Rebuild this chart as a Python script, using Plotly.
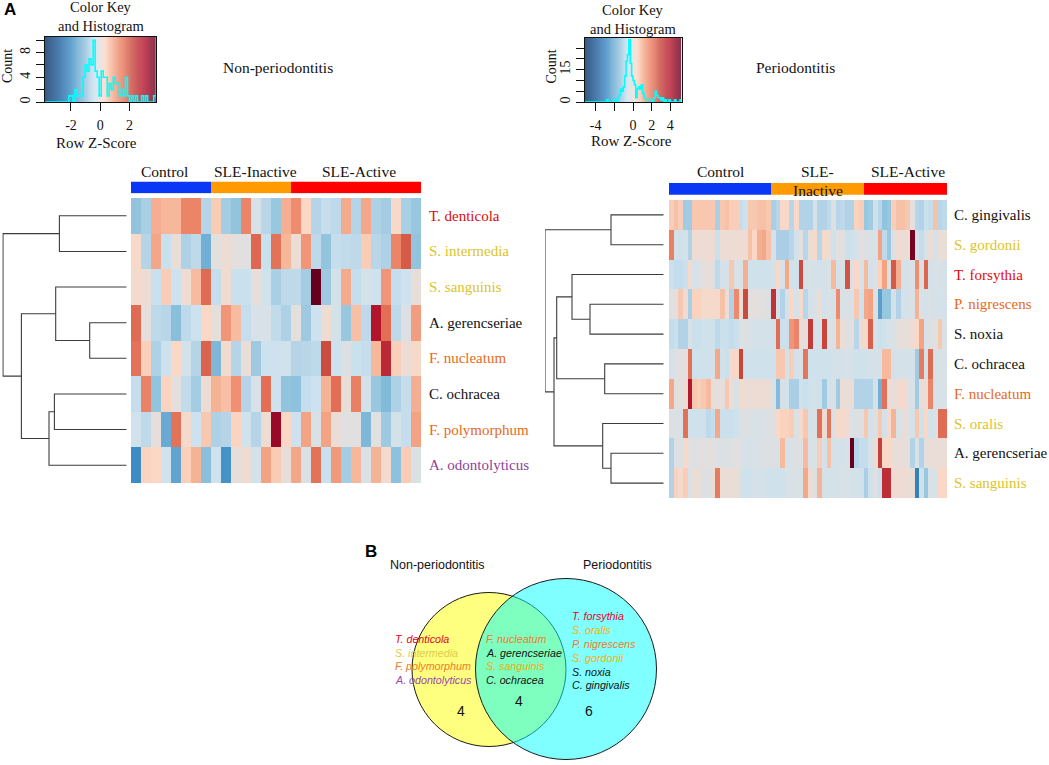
import plotly.graph_objects as go

W, H = 1049, 765
SERIF = "Liberation Serif"
SANS = "Liberation Sans"

# ---------- colours ----------
RED, YEL, ORG, PUR, BLK = "#dd0a0a", "#dcc428", "#e8691c", "#8e3f9c", "#111111"
STOPS = [(-3.8, "#053061"), (-2.8, "#1f5f9f"), (-2, "#3d8cc4"), (-1.5, "#6aaad2"), (-1, "#92c4de"),
         (-.7, "#b5d4e8"), (-.4, "#cde2ee"), (-.1, "#e0e0e0"), (.1, "#ecdcd4"), (.3, "#fbd8c6"),
         (.7, "#f6b79a"), (1.2, "#ef8c6e"), (1.7, "#df6b52"), (2.1, "#cb4b3e"), (2.6, "#bb2a34"),
         (3, "#b2142b"), (3.3, "#980a27"), (3.8, "#67001f")]
CS = [[(v + 3.8) / 7.6, c] for v, c in STOPS]

# ---------- non-periodontitis heat map ----------
rows_non = ["T. denticola", "S. intermedia", "S. sanguinis", "A. gerencseriae",
            "F. nucleatum", "C. ochracea", "F. polymorphum", "A. odontolyticus"]
rowcol_non = [RED, YEL, YEL, BLK, ORG, BLK, ORG, PUR]
groups_non = [("Control", 8), ("SLE-Inactive", 8), ("SLE-Active", 13)]
non_denticola = [-1.0,-.8,.8,.7,.7,1.3,1.3,-.7,.45,-.85,-1.0,1.3,-.25,-.65,-.95,.8,1.2,.3,-.7,-.5,-.6,.85,-.7,.9,-.75,-.85,.25,-.8,-.95]
non_intermedia = [.25,-.7,.9,-.45,.05,-.75,-.6,-1.4,-.05,.1,-.05,-.1,1.75,-.45,1.6,.7,.08,1.1,-.6,-1.0,-.5,-.55,-.6,.45,-.65,-.75,1.3,1.9,-1.0]
non_sanguinis = [.2,.1,-.45,.45,-.4,.15,.65,1.7,-.5,.15,-.45,-.45,0,-.35,-.8,-.6,-.6,-.85,3.8,-.9,-.3,.85,-.5,-.3,-.4,1.1,-.5,-.4,.02]
non_gerenc = [1.7,0,-.6,-.65,-1.1,-.6,-.4,.3,0,1.1,.65,-.5,-.25,-.25,-.55,-.75,-.05,-.9,-.4,.12,-.3,-.95,.6,-.6,3.0,1.65,-.6,-.15,1.0]
non_nucleatum = [1.6,.4,-.75,-.4,.3,-.3,-.7,1.8,-1.25,.15,-.7,.05,-.9,-.4,-.4,-.35,-.7,-.65,-.6,2.1,-.4,-.15,-.45,-.5,.7,2.6,.4,.1,.25]
non_ochracea = [-.5,1.35,-1.0,.35,-.03,-.55,-.85,.1,.75,.6,1.15,-.7,-.25,1.65,-.4,-1.0,-1.05,-.5,-.4,.75,1.65,.05,1.4,-.3,-.95,-1.2,-.75,-.5,.8]
non_polymorphum = [-.35,-.6,-.02,-1.5,1.6,.2,-.4,.5,-.75,-.7,.35,-.35,-.7,.1,3.3,.3,-.4,.95,-.2,.95,.05,-.1,-.1,-1.25,-.1,-.9,-.3,-.5,.95]
non_odonto = [-2.0,.35,.3,-.35,-1.6,.4,.75,-1.1,-.4,-1.9,0,.15,-.3,.95,.45,.05,.9,-.2,1.6,-.45,1.05,-.85,.7,-.2,.75,.2,-1.05,.45,-.2]
z_non = [non_denticola, non_intermedia, non_sanguinis, non_gerenc, non_nucleatum, non_ochracea, non_polymorphum, non_odonto]

# ---------- periodontitis heat map ----------
rows_per = ["C. gingivalis", "S. gordonii", "T. forsythia", "P. nigrescens", "S. noxia",
            "C. ochracea", "F. nucleatum", "S. oralis", "A. gerencseriae", "S. sanguinis"]
rowcol_per = [BLK, YEL, RED, ORG, BLK, BLK, ORG, YEL, BLK, YEL]
groups_per = [("Control", 22), ("SLE-Inactive", 20), ("SLE-Active", 18)]
per_gingivalis = [.6,.8,.6,-1.2,-1.2,.7,.7,.7,.7,.7,-1.1,.7,.8,.6,.6,-.7,-.5,.7,.7,.8,.8,.7,-1.1,-.9,.4,.4,-.9,.4,-1.0,-1.0,-1.0,-.3,-1.0,-1.0,-.8,-.2,-.9,-.8,-1,-1,.5,.6,-1.3,-1.2,-.5,-.9,-1.4,-1.3,.6,.8,.8,.7,-.1,-.9,-1.0,-.6,-.7,.8,-.9,-.8]
per_gordonii = [1.9,-.4,-.5,-.4,-1,.15,.2,.1,.2,.2,-.6,.15,.15,.1,.2,.15,.2,.8,.4,1.1,1.2,.8,-.4,-1.1,-1.1,-1.1,-.9,-.4,-.1,-.9,.1,.4,-.9,.3,.1,-.5,-.1,-.1,-.6,-.5,-.4,-.1,-.2,-.3,-.3,1.3,-.8,-1.3,-.2,.2,.1,.1,5.0,-.4,-.7,-.3,.1,-.4,.1,.1]
per_forsythia = [-.6,-.7,-.7,-.6,.3,-.4,-.2,-.1,.1,-.2,-.8,-.4,-.4,.7,-.3,-.3,1.1,-.5,-.5,-.5,-.5,-.5,-.4,.4,-.3,1.2,-.5,-.5,2.9,-.4,-.3,-.4,-.4,-.4,-.3,.9,-.4,-.3,2.7,-.2,.4,-.3,.9,-.4,-.3,.5,1.3,-.2,2.6,1.1,-.4,-.4,-.3,1.6,-.3,2.4,-.4,-.3,-.3,-.4]
per_nigrescens = [-.1,-.1,.7,.2,-1.1,.5,.5,.3,.3,.3,.3,.8,.1,-1,1.7,.1,2.9,-.1,-.1,-.1,-.1,-.2,3.4,-.4,-1,-.3,.4,-.3,.3,-.9,-.4,-.3,.1,-.4,-.3,-.4,1.7,-.3,-.3,-.3,.7,-.5,1.2,1.3,-.2,-2.3,-1.3,-1.3,-.4,-1,-.4,-.4,-.3,1,-.3,-.4,-.3,-.4,-.4,-.4]
per_noxia = [-.7,-.6,-1,-1,-.3,-.6,-.6,-.5,-.5,-.5,-.8,-.6,-.6,-.7,-.6,-.2,-.2,-.3,-.4,-.4,-.4,-.4,-.5,2.3,-.6,-.6,1.5,1.8,.1,-.1,3.2,-.4,-.4,3,-.3,-.2,1,.1,-.2,-.1,-.9,.2,.3,2.5,-.3,-.6,-.5,-.3,-.3,-.1,.1,-.1,.2,.4,1.3,-.3,-.2,-.1,.7,-.3]
per_ochracea = [-.4,-.2,-.1,-.1,2.2,-.5,-.5,-.5,-.5,-.4,1.2,-.5,-.6,.3,.4,3.0,-.5,-.5,-.5,-.5,-.5,-.5,-.5,.7,.7,-.4,.6,-.4,-.3,2.1,-.5,-.5,-.5,-.5,-.5,-.4,-.4,-.4,-.3,-.4,-.5,-.5,-.5,-.4,-.4,-.4,.9,.9,-.4,-.4,-.4,-.4,-.4,-1.2,2,-.4,2.3,-.3,-.3,-.3]
per_nucleatum = [1.2,-.1,-.1,.2,4.0,.7,.6,.7,.9,.05,-.05,-.05,.7,.05,-.3,.3,.1,.1,.15,.15,.15,.1,-.3,-1.6,-.4,-.4,-1.1,-1.1,-.5,-.6,-.5,-.4,-.5,-1.2,-.4,-.3,-1.2,.1,.1,.1,-1,-1,-1,-1,-.4,-1.9,2.2,.05,.1,.2,.4,-.1,-.3,-1.2,.1,.1,1.8,-.3,-.3,-.3]
per_oralis = [-.2,-.2,-.3,2.2,-.5,-.5,-.5,-.5,-.8,-.7,1.2,-.6,-.6,-.6,-.5,-.2,-.2,-.2,-.3,-.3,-.3,-.2,-.2,.4,.5,.5,.6,-.2,.3,.7,-.4,-.3,2.2,.2,2.1,-.3,.4,.3,.2,-.3,-.2,-.2,.7,-.4,-.2,.7,-.4,.3,1.0,-.3,.05,-.1,-.4,.7,-.5,.4,-.4,-.3,2.3,2.3]
per_gerenc = [-1,-.2,-.2,.3,-.1,-.2,-.1,-.1,-.1,-.1,-.2,-.2,-.2,-.2,-.1,-.3,-.3,-.4,-.3,-.3,-.2,-.2,-.2,-.3,.9,-.3,-.3,-.2,-.2,.9,-.3,-.3,.6,-.4,.8,-.4,-.4,-.4,-.3,5.2,-.9,-.7,-.7,-.3,.1,3.1,.4,.4,.1,.05,.05,.05,-1,-.3,-1,-.1,.1,.05,.1,.1]
per_sanguinis = [-1,.5,.3,.6,-.3,.1,.1,-.2,-.2,.1,2,.1,.1,.1,.1,-.4,-.5,-.5,-.4,-.4,-.4,-.5,-.5,-.5,-.5,-.3,-.3,-.3,-.3,1.2,.2,-.3,1,-.4,-.4,-.4,-.4,-.3,-.3,-.4,-.4,-.5,-1.1,-.5,-.1,-.6,3.5,3.5,.2,.2,.2,.1,.1,-3,-.5,-1.3,-.3,-.3,.4,.4]
z_per = [per_gingivalis, per_gordonii, per_forsythia, per_nigrescens, per_noxia, per_ochracea, per_nucleatum, per_oralis, per_gerenc, per_sanguinis]

# ---------- histograms of the colour keys ----------
hist_non = [0]*12 + [1,1,0,2,1,1,1,4,6,5,7,6,10,5,4,1,5,4,4,1,3,2,4,3,3,1,2,1,4,1,0,1,0,1,0,0,1,0,1,0,0,0,1]
hist_per = [0]*16 + [1,0,0,0,0,1,1,0,2,3,6,5,7,12,19,22,29,18,12,10,8,2,6,7,6,8,4,2,1,1,1,1,1,0,2,5,3,2,2,1,2,0,1,0,0,1,0,0,0,1,0,0,0,1]

# ---------- dendrograms: (child, child, height); child is a row number or an earlier merge "m<i>" ----------
merges_non = [(0,1,67.3),(3,4,37.0),(2,"m1",71.0),(5,6,72.3),("m3",7,77.7),("m2","m4",105.3),("m0","m5",123.7)]
merges_per = [(0,1,52.7),(3,4,73.7),(2,"m1",91.7),(5,6,59.0),("m2","m3",107.0),(8,9,52.7),(7,"m5",61.0),("m4","m6",109.7),("m0","m7",118.7)]

# ---------- Venn ----------
venn_left = [("T. denticola","#e8001c"),("S. intermedia","#dccb50"),("F. polymorphum","#f07a2a"),("A. odontolyticus","#9a48aa")]
venn_mid = [("F. nucleatum","#f07a2a"),("A. gerencseriae","#111111"),("S. sanguinis","#f2a816"),("C. ochracea","#111111")]
venn_right = [("T. forsythia","#e8001c"),("S. oralis","#f2b400"),("P. nigrescens","#f07a2a"),("S. gordonii","#f2b400"),("S. noxia","#111111"),("C. gingivalis","#111111")]
venn_counts = [4, 4, 6]

for r in z_non: assert len(r) == 29
for r in z_per: assert len(r) == 60

# ---------- helpers ----------
fig = go.Figure()
layout = {}
ann = []
n_ax = [0]

def new_axes(px0, px1, py0, py1, xkw=None, ykw=None):
    n_ax[0] += 1
    n = n_ax[0]
    base = dict(showgrid=False, zeroline=False, showticklabels=False, ticks="", showline=False)
    layout[f"xaxis{n}"] = dict(base, domain=[px0/W, px1/W], anchor=f"y{n}", **(xkw or {}))
    layout[f"yaxis{n}"] = dict(base, domain=[1-py1/H, 1-py0/H], anchor=f"x{n}", **(ykw or {}))
    return f"x{n}", f"y{n}"

def label(px, py, s, size=14, font=SERIF, color="#111111", anchor="center", angle=0):
    ann.append(dict(x=px/W, y=1-py/H, xref="paper", yref="paper", text=s, showarrow=False,
                    xanchor=anchor, yanchor="middle", textangle=angle, borderpad=0,
                    font=dict(family=font, size=size, color=color)))

def heat_panel(z, names, colors, groups, box, bar, lab_x, zmax, merges, den):
    x0, x1, y0, y1 = box
    nc, nr = len(z[0]), len(z)
    xa, ya = new_axes(x0, x1, y0, y1, dict(range=[-.5, nc-.5]), dict(range=[nr-.5, -.5]))
    fig.add_trace(go.Heatmap(z=z, xaxis=xa, yaxis=ya, zmin=-zmax, zmax=zmax, colorscale=CS,
                             showscale=False, hoverinfo="skip"))
    for i, (nm, c) in enumerate(zip(names, colors)):
        step = (y1-y0)/nr
        label(lab_x, y0+step*(i+.5), nm, size=15, color=c, anchor="left")
    # group colour bar
    xb, yb = new_axes(x0, x1, bar[0], bar[1], dict(range=[-.5, nc-.5]), dict(range=[-.5, .5]))
    code = []
    for k, (_, cnt) in enumerate(groups):
        code += [k]*cnt
    fig.add_trace(go.Heatmap(z=[code], xaxis=xb, yaxis=yb, zmin=0, zmax=2, showscale=False, hoverinfo="skip",
                             colorscale=[[0,"#0a37f5"],[.5,"#ff9a00"],[1,"#ff0000"]]))
    # dendrogram
    dx0, dx1, hmax = den
    xd, yd = new_axes(dx0, dx1, y0, y1, dict(range=[hmax, 0]), dict(range=[nr-.5, -.5]))
    pos = {}
    xs, ys = [], []
    for i, (a, b, h) in enumerate(merges):
        (ya_, ha), (yb_, hb) = [(pos[c] if isinstance(c, str) else (c, 0)) for c in (a, b)]
        xs += [ha, h, h, hb, None]
        ys += [ya_, ya_, yb_, yb_, None]
        pos[f"m{i}"] = ((ya_+yb_)/2, h)
    fig.add_trace(go.Scatter(x=xs, y=ys, xaxis=xd, yaxis=yd, mode="lines", hoverinfo="skip",
                             line=dict(color="#3c3c3c", width=1.1), showlegend=False, cliponaxis=False))

def key_panel(box, zr, hist, ymax, xticks, xtext, yticks, ytext):
    x0, x1, y0, y1 = box
    tick = dict(family=SERIF, size=14, color="#111111")
    xa, ya = new_axes(x0, x1, y0, y1,
        dict(range=[-zr, zr], showline=True, mirror=True, linecolor="#111", linewidth=1, ticks="outside", ticklen=8,
             tickcolor="#111", tickvals=xticks, ticktext=xtext, showticklabels=True, tickfont=tick, ticklabelstandoff=2, tickangle=0),
        dict(range=[0, ymax], showline=True, mirror=True, linecolor="#111", linewidth=1, ticks="outside", ticklen=8,
             tickcolor="#111", tickvals=yticks, ticktext=ytext, showticklabels=True, tickfont=tick, tickangle=-90))
    n = len(hist)
    grad = [-zr + 2*zr*i/199 for i in range(200)]
    fig.add_trace(go.Heatmap(z=[grad], x=grad, y=[0, ymax], xaxis=xa, yaxis=ya, zmin=-zr, zmax=zr, colorscale=CS,
                             showscale=False, opacity=.8, hoverinfo="skip"))
    edges = [-zr + 2*zr*i/n for i in range(n+1)]
    fig.add_trace(go.Scatter(x=edges, y=list(hist)+[hist[-1]], mode="lines", line=dict(color="#00ffff", width=1.6, shape="hv"),
                             xaxis=xa, yaxis=ya, showlegend=False, hoverinfo="skip", cliponaxis=False))

# ---------- panel A ----------
key_panel((44.7, 155.7, 37, 102), 3.8, hist_non, 10.53, [-2,0,2], ["-2","0","2"], [0,2,4,6,8,10], ["0","","4","","8",""])
key_panel((584.5, 681.5, 38, 102), 5.2, hist_per, 29.7, [-4,-2,0,2,4], ["-4","","0","2","4"], [0,5,10,15,20,25], ["0","","","15","",""])

heat_panel(z_non, rows_non, rowcol_non, groups_non, (131, 421, 198, 483), (181.5, 193.3), 427.5, 3.8, merges_non, (2.3, 126.7, 124.4))
heat_panel(z_per, rows_per, rowcol_per, groups_per, (669, 947, 200, 498), (183, 194.7), 953, 5.2, merges_per, (545, 663.7, 118.7))

label(10, 10, "<b>A</b>", size=17, font=SANS, color="#000")
label(101, 7.5, "Color Key", 14.5); label(101, 26.5, "and Histogram", 14.5)
label(96, 143, "Row Z-Score", 15); label(7, 66, "Count", 14, angle=-90)
label(278, 67, "Non-periodontitis", 15.5)
label(633, 10, "Color Key", 14.5); label(633, 29.5, "and Histogram", 14.5)
label(631, 141, "Row Z-Score", 15); label(551, 66.5, "Count", 14, angle=-90)
label(795, 67, "Periodontitis", 15.5)

label(164.5, 172, groups_non[0][0], 15.5); label(255, 172, groups_non[1][0], 15.5); label(359, 172, groups_non[2][0], 15.5)
label(720, 171.5, groups_per[0][0], 15.5); label(817, 171.5, "SLE-", 15.5); label(818, 190.5, "Inactive", 15.5); label(908, 171.5, groups_per[2][0], 15.5)

# ---------- panel B ----------
def circle(cx, cy, r, color):
    return dict(type="circle", xref="paper", yref="paper", x0=(cx-r)/W, x1=(cx+r)/W, y0=1-(cy+r)/H, y1=1-(cy-r)/H,
                fillcolor=color, line=dict(color="#1a1a1a", width=1), layer="above")

shapes = [circle(489, 669.5, 77, "rgba(255,255,0,0.5)"), circle(566, 669, 90.5, "rgba(0,255,255,0.5)")]
label(371, 551, "<b>B</b>", size=17, font=SANS, color="#000")
label(437, 565, "Non-periodontitis", 12.5, SANS); label(617, 565, "Periodontitis", 12.5, SANS)
for items, lx, ly0 in ((venn_left, 394, 638.7), (venn_mid, 484.5, 638.7), (venn_right, 570.5, 616.3)):
    for i, (s, c) in enumerate(items):
        label(lx, ly0+13.8*i, f"<i>{s}</i>", 10.7, SANS, c, anchor="left")
for c, px, py in zip(venn_counts, (461, 519, 588.7), (711, 701.3, 711)):
    label(px, py, str(c), 14, SANS)

fig.update_layout(width=W, height=H, margin=dict(l=0, r=0, t=0, b=0), paper_bgcolor="white", plot_bgcolor="white",
                  showlegend=False, annotations=ann, shapes=shapes, **layout)
fig.write_html("out.html", config=dict(displayModeBar=False), post_script="document.body.style.margin='0';")
